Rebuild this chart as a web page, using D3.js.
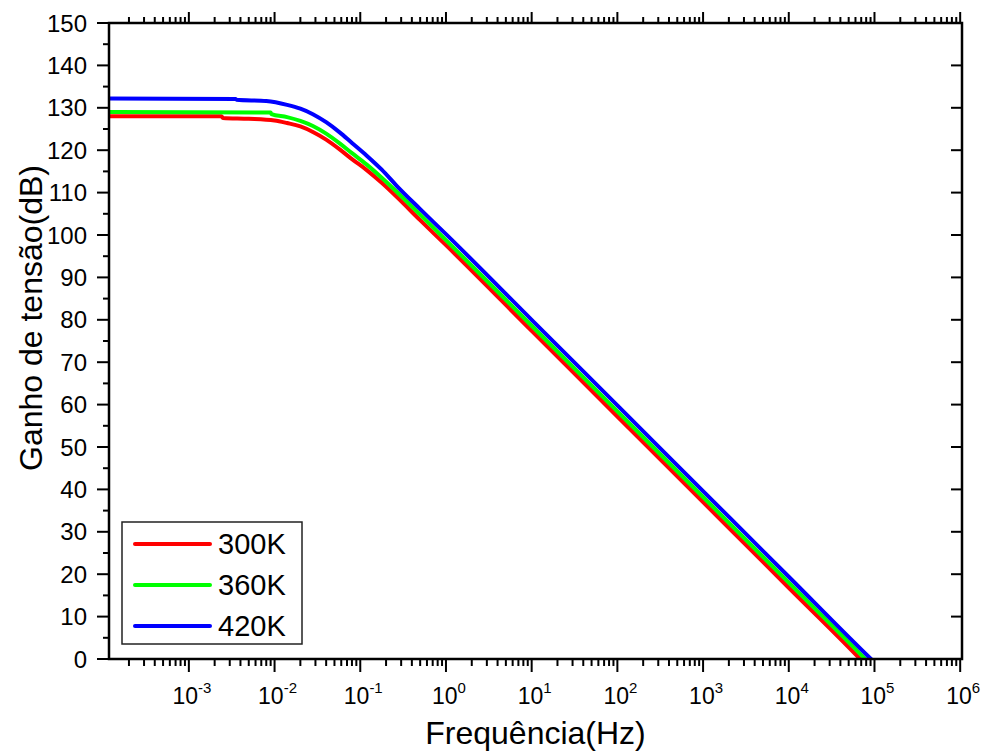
<!DOCTYPE html>
<html>
<head>
<meta charset="utf-8">
<script src="https://cdn.jsdelivr.net/npm/d3@7"></script>
<style>
  body { margin: 0; background: #fff; }
  svg { display: block; }
  text { font-family: Arial, "Liberation Sans", sans-serif; fill: #000; }
</style>
</head>
<body>
<div id="chart"></div>
<script>
// series: frequency (Hz) and gain (dB)
const seriesNames = ["300K", "360K", "420K"];
const seriesColors = ["#ff0000", "#00ff00", "#0000ff"];

const freq300 = [1.17e-4, 2.4e-3, 2.5e-3, 5e-3, 1e-2, 1.4e-2, 2e-2, 2.8e-2, 4e-2, 5.75e-2, 8e-2, 0.119, 0.178, 0.266, 0.5, 1, 10, 100, 1e3, 1e4, 6.8e4, 8e4];
const gain300 = [128.0, 128.0, 127.6, 127.4, 127.0, 126.4, 125.6, 124.3, 122.5, 120.2, 117.9, 115.3, 112.3, 109.0, 103.5, 97.6, 77.4, 57.2, 37.0, 16.8, 0.0, -1.5];

const freq360 = [1.17e-4, 9e-3, 9.2e-3, 1.4e-2, 2e-2, 2.8e-2, 4e-2, 5.75e-2, 8e-2, 0.119, 0.178, 0.266, 0.5, 1, 10, 100, 1e3, 1e4, 7.8e4, 9e4];
const gain360 = [129.0, 128.9, 128.5, 127.8, 126.9, 125.7, 123.9, 121.6, 119.3, 116.6, 113.5, 110.2, 104.8, 98.8, 78.6, 58.4, 38.2, 18.0, 0.0, -1.3];

const freq420 = [1.17e-4, 3.5e-3, 3.6e-3, 8e-3, 1.4e-2, 2e-2, 2.8e-2, 4e-2, 5.75e-2, 8e-2, 0.119, 0.178, 0.266, 0.5, 1, 10, 100, 1e3, 1e4, 9.1e4, 1e5];
const gain420 = [132.2, 132.1, 131.9, 131.6, 130.7, 129.8, 128.5, 126.6, 124.2, 121.7, 118.7, 115.4, 111.6, 106.1, 100.2, 80.0, 59.8, 39.6, 19.4, 0.0, -0.8];

const xMajorTicks = [1e-3, 1e-2, 1e-1, 1e0, 1e1, 1e2, 1e3, 1e4, 1e5, 1e6];
const xTickExponents = ["-3", "-2", "-1", "0", "1", "2", "3", "4", "5", "6"];
const yMajorTicks = [0, 10, 20, 30, 40, 50, 60, 70, 80, 90, 100, 110, 120, 130, 140, 150];

const W = 984, H = 754;
const pLeft = 109, pRight = 962, pTop = 23, pBottom = 659;

const svg = d3.select("#chart").append("svg").attr("width", W).attr("height", H);

const x = d3.scaleLog().domain([1.17e-4, 1.05e6]).range([pLeft, pRight]);
const y = d3.scaleLinear().domain([0, 150]).range([pBottom, pTop]);

// minor x ticks: 2..9 in each decade inside the domain
const xMinorTicks = [];
for (let e = -4; e <= 6; e++) {
  for (let m = 2; m <= 9; m++) {
    const v = m * Math.pow(10, e);
    if (v > x.domain()[0] && v < x.domain()[1]) xMinorTicks.push(v);
  }
}
const yMinorTicks = d3.range(5, 150, 10);

const data = [
  freq300.map((f, i) => [f, gain300[i]]),
  freq360.map((f, i) => [f, gain360[i]]),
  freq420.map((f, i) => [f, gain420[i]])
];

svg.append("defs").append("clipPath").attr("id", "plot-clip")
  .append("rect").attr("x", pLeft).attr("y", pTop).attr("width", pRight - pLeft).attr("height", pBottom - pTop);

// curves
const line = d3.line().x(d => x(d[0])).y(d => y(d[1])).curve(d3.curveMonotoneX);
const curves = svg.append("g").attr("clip-path", "url(#plot-clip)");
data.forEach((d, i) => {
  curves.append("path").attr("d", line(d))
    .attr("fill", "none").attr("stroke", seriesColors[i])
    .attr("stroke-width", 4).attr("stroke-linejoin", "round");
});

// ticks
const tickG = svg.append("g").attr("stroke", "#000").attr("stroke-width", 2);
function ticksX(vals, y0, len) {
  vals.forEach(v => tickG.append("line").attr("x1", x(v)).attr("x2", x(v)).attr("y1", y0).attr("y2", y0 + len));
}
function ticksY(vals, x0, len) {
  vals.forEach(v => tickG.append("line").attr("x1", x0).attr("x2", x0 + len).attr("y1", y(v)).attr("y2", y(v)));
}
ticksX(xMajorTicks, pBottom, 13);
ticksX(xMinorTicks, pBottom, 7);
ticksX(xMajorTicks, pTop, -11);
ticksX(xMinorTicks, pTop, -6);
ticksY(yMajorTicks, pLeft, -12);
ticksY(yMinorTicks, pLeft, -6);
ticksY(yMajorTicks, pRight, -11);

// frame
svg.append("rect").attr("x", pLeft).attr("y", pTop).attr("width", pRight - pLeft).attr("height", pBottom - pTop)
  .attr("fill", "none").attr("stroke", "#000").attr("stroke-width", 2.5);

// y tick labels
svg.append("g").selectAll("text").data(yMajorTicks).join("text")
  .attr("x", 87).attr("y", d => y(d)).attr("dy", "0.36em")
  .attr("text-anchor", "end").attr("font-size", 24)
  .text(d => d);

// x tick labels with superscript exponents
const xl = svg.append("g");
xMajorTicks.forEach((v, i) => {
  const t = xl.append("text").attr("x", x(v) + 3).attr("y", 704)
    .attr("text-anchor", "middle").attr("font-size", 23);
  t.append("tspan").text("10");
  t.append("tspan").attr("font-size", 15).attr("dy", -11).text(xTickExponents[i]);
});

// axis titles
svg.append("text").attr("x", (pLeft + pRight) / 2).attr("y", 744)
  .attr("text-anchor", "middle").attr("font-size", 32).text("Frequência(Hz)");
svg.append("text").attr("transform", "translate(42,318) rotate(-90)")
  .attr("text-anchor", "middle").attr("font-size", 32).text("Ganho de tensão(dB)");

// legend
const lg = svg.append("g");
lg.append("rect").attr("x", 122).attr("y", 522).attr("width", 180).attr("height", 122)
  .attr("fill", "#fff").attr("stroke", "#222").attr("stroke-width", 1.5);
seriesNames.forEach((name, i) => {
  const ly = 544 + i * 41;
  lg.append("line").attr("x1", 135).attr("x2", 210).attr("y1", ly).attr("y2", ly)
    .attr("stroke", seriesColors[i]).attr("stroke-width", 4).attr("stroke-linecap", "round");
  lg.append("text").attr("x", 218).attr("y", ly).attr("dy", "0.36em")
    .attr("font-size", 29).text(name);
});
</script>
</body>
</html>
